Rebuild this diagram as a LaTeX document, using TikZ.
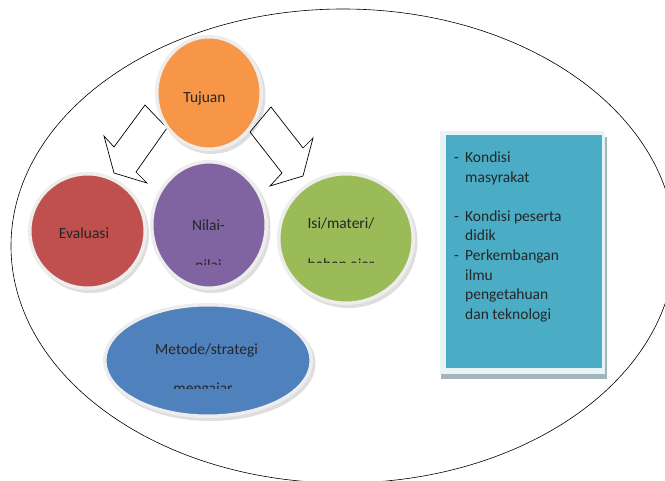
\documentclass[tikz,border=0pt]{standalone}
\usepackage{fontspec}
\setmainfont{Carlito}
\usetikzlibrary{shapes.geometric}
\definecolor{cOrange}{HTML}{F79646}
\definecolor{cRed}{HTML}{C0504D}
\definecolor{cPurple}{HTML}{8064A2}
\definecolor{cGreen}{HTML}{9BBB59}
\definecolor{cBlue}{HTML}{4F81BD}
\definecolor{cAqua}{HTML}{4BACC6}
\definecolor{rimc}{HTML}{EDEDED}
\definecolor{txt}{HTML}{262626}
\definecolor{boxframe}{HTML}{E8F3F5}
\definecolor{boxshadow}{HTML}{A3B6BA}
\tikzset{
  bubble/.style={ellipse, draw=rimc, line width=3.5pt, inner sep=0pt},
  bshadow/.style={fill=black, opacity=0.13},
  lbl/.style={anchor=base, text=txt, font=\fontsize{15.5}{19.7}\selectfont, inner sep=0pt},
  lline/.style={anchor=base west, text=txt, font=\fontsize{15.5}{19.7}\selectfont, inner sep=0pt},
  blockarrow/.style={draw=black, fill=white, line width=0.7pt, line join=miter},
}
\begin{document}
\begin{tikzpicture}[x=1pt,y=-1pt]
\useasboundingbox (0,0) rectangle (665,481);
\fill[white] (0,0) rectangle (665,481);
% outer ellipse
\node[ellipse, draw=black, line width=0.6pt, minimum width=664pt, minimum height=474pt, inner sep=0pt] (outer) at (343,246) {};
% block arrows
\draw[blockarrow] (145,105) -- (167,128) -- (136,172) -- (147,183) -- (114,173) -- (104,136) -- (114,147) -- cycle;
\draw[blockarrow] (271,107) -- (303,148) -- (313,138) -- (303,176) -- (270,186) -- (282,173) -- (250,132) -- cycle;
% shadows
\fill[bshadow] (90,234) ellipse [x radius=59pt, y radius=59pt];
\fill[bshadow] (211.5,228) ellipse [x radius=59pt, y radius=65pt];
\fill[bshadow] (348.5,241.5) ellipse [x radius=69pt, y radius=66.5pt];
\fill[bshadow] (210.5,363.5) ellipse [x radius=105pt, y radius=57.5pt];
\fill[bshadow] (211.5,96) ellipse [x radius=54pt, y radius=58pt];
% bubbles
\node[bubble, fill=cRed, minimum width=115.5pt, minimum height=114.5pt] (eval) at (87.5,231) {};
\node[bubble, fill=cPurple, minimum width=114.5pt, minimum height=126.5pt] (nilai) at (209,225) {};
\node[bubble, fill=cGreen, minimum width=134.5pt, minimum height=129.5pt] (isi) at (346,238.5) {};
\node[bubble, fill=cBlue, minimum width=206.5pt, minimum height=111.5pt] (metode) at (208,360.5) {};
\node[bubble, fill=cOrange, minimum width=104.5pt, minimum height=112.5pt] (tujuan) at (209,93) {};
% labels
\node[lbl] (tTujuan) at (204.5,103) {Tujuan};
\node[lbl] (tEval) at (84,238.5) {Evaluasi};
\node[lbl] (tNilai) at (208.5,230.7) {Nilai-};
\node[lbl] (tIsi) at (341,229) {Isi/materi/};
\node[lbl] (tMetode) at (206.5,354.3) {Metode/strategi};
\begin{scope}
  \clip (150,240) rectangle (270,264.3);
  \node[lbl] (tNilai2) at (208.5,270.5) {nilai};
\end{scope}
\begin{scope}
  \clip (280,240) rectangle (410,262.8);
  \node[lbl] (tIsi2) at (341,269.2) {bahan ajar};
\end{scope}
\begin{scope}
  \clip (110,365) rectangle (310,388.3);
  \node[lbl] (tMetode2) at (203,393.6) {mengajar};
\end{scope}
% text box
\fill[boxshadow] (441,137) rectangle (607,379);
\fill[boxframe] (440,131) rectangle (605,374);
\node[fill=cAqua, minimum width=156pt, minimum height=233pt, anchor=north west, inner sep=0pt] (box) at (446,135) {};
\node[lline] (d1) at (454,162.5) {-};
\node[lline] (l1) at (465,162.5) {Kondisi};
\node[lline] (l2) at (465,182.1) {masyrakat};
\node[lline] (d2) at (454,221.3) {-};
\node[lline] (l3) at (465,221.3) {Kondisi peserta};
\node[lline] (l4) at (465,240.9) {didik};
\node[lline] (d3) at (454,260.5) {-};
\node[lline] (l5) at (465,260.5) {Perkembangan};
\node[lline] (l6) at (465,280.1) {ilmu};
\node[lline] (l7) at (465,299.7) {pengetahuan};
\node[lline] (l8) at (465,319.3) {dan teknologi};
\end{tikzpicture}
\end{document}
